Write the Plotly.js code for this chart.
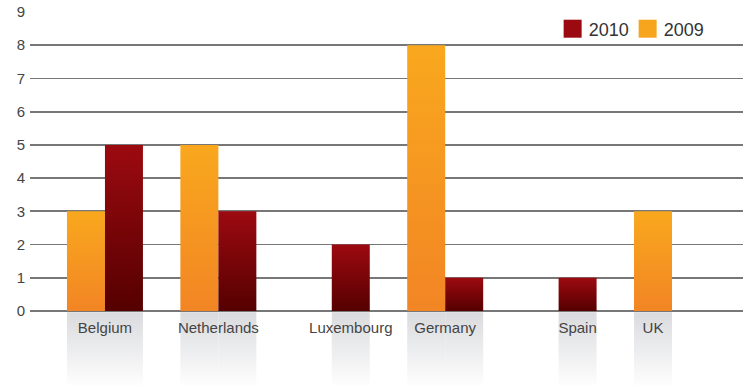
<!DOCTYPE html>
<html>
<head>
<meta charset="utf-8">
<script src="https://cdn.plot.ly/plotly-3.0.1.min.js"></script>
<style>
  html, body { margin: 0; padding: 0; background: #ffffff; }
  #chart { width: 743px; height: 385px; }
</style>
</head>
<body>
<div id="chart"></div>
<script>
// ---- data ----
const categories = ["Belgium", "Netherlands", "Luxembourg", "Germany", "Spain", "UK"];
const values2009 = [3, 5, 0, 8, 0, 3];
const values2010 = [5, 3, 2, 1, 1, 0];
const seriesNames = ["2009", "2010"];
const yTicks = [0, 1, 2, 3, 4, 5, 6, 7, 8, 9];

// ---- layout constants ----
const BARGAP = 0.33;
const barW = (1 - BARGAP) / 2;           // width of one bar in category units
const idx = categories.map((_, i) => i);

// tick label sits on the visible bars of each group
const tickPos = idx.map(i => {
  const a = values2009[i] > 0, b = values2010[i] > 0;
  if (a && !b) return i - barW / 2;
  if (b && !a) return i + barW / 2;
  return i;
});

// reflection boxes under every visible bar
const shapes = [];
[values2009, values2010].forEach((vals, s) => {
  vals.forEach((v, i) => {
    if (v > 0) {
      const x0 = s === 0 ? i - barW : i;
      shapes.push({
        type: "rect", layer: "below", xref: "x", yref: "paper",
        x0: x0, x1: x0 + barW, y0: -0.004, y1: -0.26,
        fillcolor: "#e2e3e5", line: { width: 0 }
      });
    }
  });
});

const traces = [
  { type: "bar", name: seriesNames[0], x: idx, y: values2009,
    marker: { color: "#F8A51E", line: { width: 0 } }, hoverinfo: "none" },
  { type: "bar", name: seriesNames[1], x: idx, y: values2010,
    marker: { color: "#9A0A10", line: { width: 0 } }, hoverinfo: "none" }
];

const layout = {
  width: 743, height: 385,
  margin: { l: 30, r: 0, t: 12, b: 74, autoexpand: false },
  paper_bgcolor: "#ffffff", plot_bgcolor: "#ffffff",
  font: { family: "Liberation Sans, Arial, sans-serif", color: "#444444" },
  barmode: "group", bargap: BARGAP, bargroupgap: 0,
  showlegend: true,
  legend: {
    orientation: "h", traceorder: "reversed",
    x: 0.7274, xanchor: "left", y: 1.005, yanchor: "top",
    entrywidth: 30,
    font: { size: 18, color: "#333333" }, bgcolor: "rgba(0,0,0,0)"
  },
  xaxis: {
    type: "linear", range: [-0.661, 5.626],
    tickmode: "array", tickvals: tickPos, ticktext: categories,
    showgrid: false, zeroline: false, showline: false, ticks: "",
    ticklabelstandoff: 6,
    tickfont: { size: 15, color: "#444444" }, fixedrange: true
  },
  yaxis: {
    range: [0, 9], tickmode: "array", tickvals: yTicks,
    showgrid: true, gridcolor: "#777777", gridwidth: 1.8,
    zeroline: true, zerolinecolor: "#777777", zerolinewidth: 1.8,
    showline: false, ticks: "", ticklabelstandoff: 4,
    tickfont: { size: 15, color: "#444444" }, fixedrange: true
  },
  shapes: shapes
};

function addGradients(gd) {
  const svg = gd.querySelector("svg.main-svg");
  const NS = "http://www.w3.org/2000/svg";
  const defs = document.createElementNS(NS, "defs");
  const mk = (id, c1, c2) => {
    const g = document.createElementNS(NS, "linearGradient");
    g.setAttribute("id", id);
    g.setAttribute("x1", "0"); g.setAttribute("y1", "0");
    g.setAttribute("x2", "0"); g.setAttribute("y2", "1");
    [[0, c1], [1, c2]].forEach(([o, c]) => {
      const st = document.createElementNS(NS, "stop");
      st.setAttribute("offset", o);
      st.setAttribute("stop-color", c);
      g.appendChild(st);
    });
    defs.appendChild(g);
  };
  mk("g2009", "#F9A81E", "#F28524");
  mk("g2010", "#9C0A10", "#550000");
  mk("gref", "#dadbde", "#ffffff");
  svg.insertBefore(defs, svg.firstChild);

  const tr = gd.querySelectorAll(".barlayer .trace");
  tr.forEach((t, k) => {
    t.querySelectorAll(".point path").forEach(p => {
      p.style.fill = k === 0 ? "url(#g2009)" : "url(#g2010)";
    });
  });
  gd.querySelectorAll(".shapelayer path").forEach(p => {
    p.style.fill = "url(#gref)";
    p.style.fillOpacity = 1;
  });
  gd.querySelectorAll(".legend .legendpoints path").forEach(p => {
    p.setAttribute("d", "M13,9H-5V-9H13Z");
  });
  // let the last legend entry's text run past the fixed entry width
  gd.querySelectorAll(".legend [clip-path], .legend .scrollbox").forEach(e => {
    e.removeAttribute("clip-path");
    e.style.clipPath = "none";
  });
}

Plotly.newPlot("chart", traces, layout, { displayModeBar: false, staticPlot: true })
  .then(addGradients);
</script>
</body>
</html>
